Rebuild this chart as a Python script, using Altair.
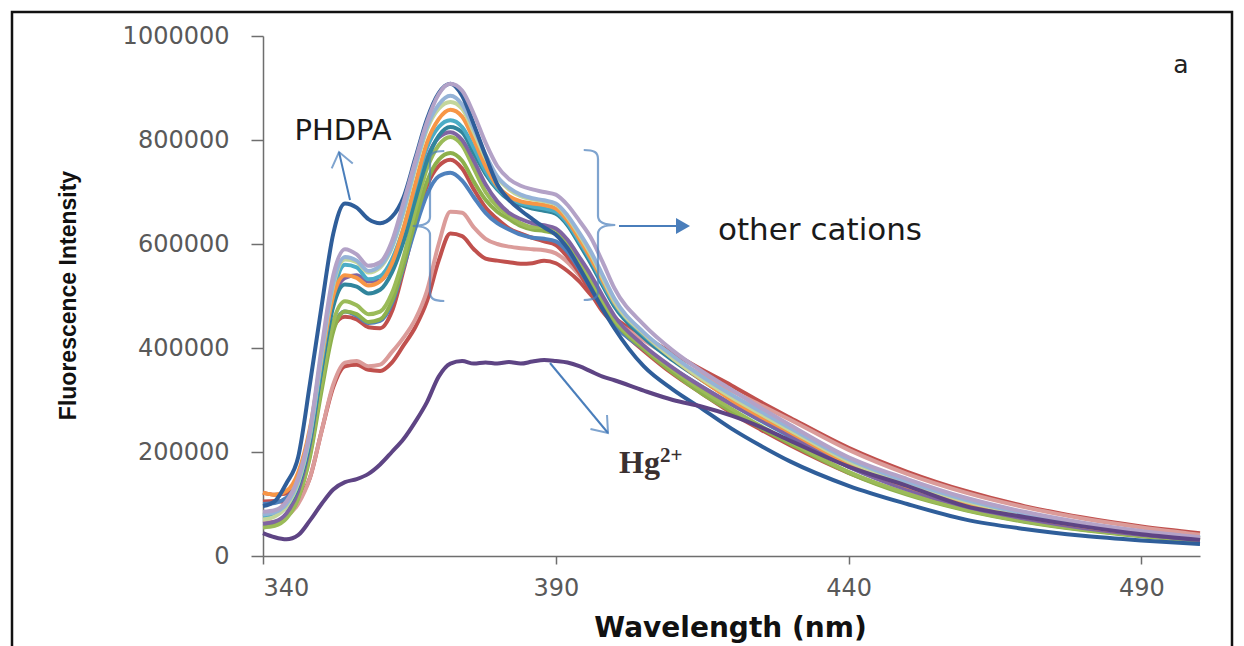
import altair as alt
import pandas as pd

# ---------------- data (intensity in thousands of counts) ----------------
WAVELENGTH = [340, 342, 344, 346, 348, 350, 352, 354, 356, 358, 360, 362, 364, 366, 368, 370,
              372, 374, 376, 378, 380, 382, 384, 386, 388, 390, 392, 394, 396, 398, 400, 405,
              410, 415, 420, 425, 430, 440, 450, 460, 470, 480, 490, 500]

RED2 = [105, 106, 104, 112, 150, 240, 325, 365, 368, 358, 356, 372, 405, 440, 490, 568,
        620, 615, 590, 572, 568, 565, 562, 563, 568, 563, 548, 528, 502, 478, 458, 422,
        390, 358, 328, 296, 266, 208, 162, 125, 96, 74, 57, 44]
PINK = [65, 66, 76, 100, 150, 240, 330, 372, 375, 365, 368, 392, 420, 455, 510, 600,
        662, 660, 632, 610, 600, 595, 592, 590, 588, 582, 565, 540, 510, 480, 455, 415,
        380, 348, 318, 290, 262, 204, 158, 122, 94, 72, 55, 41]
RED = [122, 118, 120, 140, 215, 340, 440, 460, 455, 440, 438, 470, 550, 640, 712, 750,
       762, 745, 705, 670, 648, 630, 620, 612, 605, 598, 575, 545, 505, 470, 445, 395,
       350, 312, 275, 243, 213, 160, 120, 90, 68, 52, 40, 31]
BLUE = [100, 102, 112, 140, 210, 335, 440, 470, 462, 448, 452, 485, 555, 630, 695, 730,
        737, 722, 690, 660, 640, 628, 618, 612, 610, 605, 585, 552, 515, 478, 445, 398,
        360, 325, 292, 260, 230, 172, 128, 96, 73, 55, 42, 32]
GREEN2 = [58, 60, 74, 112, 190, 318, 432, 470, 465, 450, 455, 490, 560, 645, 720, 762,
          775, 760, 720, 685, 662, 648, 635, 628, 625, 620, 598, 562, 525, 488, 452, 398,
          352, 312, 278, 246, 216, 160, 118, 88, 66, 50, 38, 29]
GREEN = [55, 58, 72, 110, 195, 330, 450, 490, 482, 465, 470, 505, 575, 665, 745, 790,
         806, 790, 745, 700, 672, 655, 640, 632, 633, 628, 605, 570, 532, 492, 455, 402,
         358, 318, 283, 250, 220, 162, 120, 89, 67, 51, 39, 29]
PURPLE = [62, 66, 82, 125, 215, 360, 490, 535, 540, 528, 530, 560, 620, 695, 765, 805,
          815, 800, 760, 715, 682, 660, 648, 640, 636, 630, 608, 575, 540, 500, 462, 405,
          362, 325, 292, 262, 232, 172, 128, 95, 72, 54, 41, 31]
DARKTEAL = [78, 82, 95, 135, 220, 360, 480, 522, 518, 505, 512, 545, 605, 685, 760, 808,
            825, 815, 775, 735, 705, 685, 675, 668, 664, 658, 636, 600, 562, 520, 480, 420,
            376, 338, 303, 272, 242, 183, 138, 104, 80, 60, 45, 34]
TEAL = [75, 80, 96, 140, 228, 372, 505, 560, 555, 532, 538, 570, 630, 710, 785, 825,
        838, 825, 785, 740, 708, 688, 678, 672, 668, 662, 640, 605, 568, 525, 485, 425,
        380, 342, 308, 278, 248, 188, 142, 107, 82, 62, 46, 35]
ORANGE = [122, 118, 125, 160, 245, 380, 500, 540, 535, 520, 528, 562, 630, 715, 795, 840,
          858, 845, 800, 750, 712, 692, 682, 678, 675, 668, 645, 610, 572, 530, 488, 428,
          380, 338, 300, 268, 238, 178, 134, 100, 76, 57, 43, 33]
LIGHTGREEN = [70, 76, 95, 140, 232, 385, 520, 570, 565, 545, 555, 592, 660, 745, 820, 860,
              873, 860, 815, 765, 728, 705, 692, 686, 682, 676, 652, 618, 580, 535, 490, 428,
              380, 340, 305, 273, 242, 182, 140, 105, 80, 60, 45, 34]
LIGHTBLUE = [80, 84, 100, 145, 235, 390, 525, 575, 568, 548, 558, 595, 665, 750, 825, 868,
             885, 868, 822, 772, 730, 708, 695, 688, 684, 678, 655, 622, 585, 540, 495, 430,
             385, 345, 310, 278, 246, 186, 143, 108, 82, 62, 46, 35]
PHDPA = [96, 105, 140, 190, 330, 480, 620, 678, 670, 648, 640, 652, 690, 765, 840, 890,
         908, 885, 830, 770, 715, 685, 665, 648, 632, 618, 592, 555, 515, 475, 438, 365,
         320, 283, 245, 212, 182, 135, 100, 70, 52, 39, 30, 23]
LIGHTPURPLE = [85, 88, 105, 150, 240, 400, 540, 590, 580, 558, 565, 605, 680, 760, 835, 888,
               908, 895, 850, 795, 750, 725, 712, 705, 700, 695, 675, 645, 612, 565, 515, 445,
               395, 355, 320, 285, 252, 190, 148, 112, 85, 64, 48, 36]
HG = [44, 36, 32, 40, 68, 100, 128, 142, 148, 158, 176, 200, 225, 258, 296, 345,
      370, 375, 370, 372, 370, 373, 370, 374, 377, 375, 372, 365, 355, 345, 338, 318,
      300, 287, 270, 248, 222, 172, 135, 96, 75, 57, 42, 31]

SERIES_NAMES = ["red2", "pink", "red", "blue", "green2", "green", "purple", "darkteal",
                "teal", "orange", "lightgreen", "lightblue", "PHDPA", "lightpurple", "Hg2+"]
SERIES_VALUES = [RED2, PINK, RED, BLUE, GREEN2, GREEN, PURPLE, DARKTEAL,
                 TEAL, ORANGE, LIGHTGREEN, LIGHTBLUE, PHDPA, LIGHTPURPLE, HG]
SERIES_COLORS = ["#C0504D", "#DB9C9A", "#C0504D", "#4F81BD", "#8DB04C", "#9BBB59", "#8064A2",
                 "#31859C", "#4BACC6", "#F79646", "#C3D69B", "#95B3D7", "#2F5E9A", "#B3A2C7",
                 "#5E4484"]

X_TICKS = [340, 390, 440, 490]
Y_TICKS = [0, 200000, 400000, 600000, 800000, 1000000]

rows = []
for name, vals in zip(SERIES_NAMES, SERIES_VALUES):
    for w, v in zip(WAVELENGTH, vals):
        rows.append({"series": name, "wl": w, "val": v * 1000})
df = pd.DataFrame(rows)

W, H = 937, 520
ARROW = "#4A7EBB"
SANS = "DejaVu Sans"

lines = alt.Chart(df).mark_line(strokeWidth=4, interpolate="monotone").encode(
    x=alt.X("wl:Q", scale=alt.Scale(domain=[340, 500], nice=False),
            axis=alt.Axis(values=X_TICKS, title="Wavelength (nm)", grid=False,
                          labelFont=SANS, labelFontSize=24, labelColor="#595959",
                          labelPadding=12, tickSize=8, tickColor="#6e6e6e",
                          domainColor="#6e6e6e", domainWidth=1.5, tickWidth=1.5,
                          titleFont=SANS, titleFontWeight="bold", titleFontSize=28,
                          titleColor="#111111", titleX=467, titleY=80,
                          titleBaseline="alphabetic", titleAlign="center")),
    y=alt.Y("val:Q", scale=alt.Scale(domain=[0, 1000000], nice=False),
            axis=alt.Axis(values=Y_TICKS, format="d", title="Fluorescence Intensity", grid=False,
                          labelFont=SANS, labelFontSize=24, labelColor="#595959",
                          labelPadding=22, tickSize=12, tickColor="#6e6e6e",
                          domainColor="#6e6e6e", domainWidth=1.5, tickWidth=1.5,
                          titleFont="Liberation Sans", titleFontWeight="bold",
                          titleFontSize=23, titleColor="#111111", titleAngle=270,
                          titleX=-195, titleY=259, titleAlign="center",
                          titleBaseline="middle")),
    color=alt.Color("series:N", scale=alt.Scale(domain=SERIES_NAMES, range=SERIES_COLORS),
                    sort=SERIES_NAMES, legend=None),
)

dummy = pd.DataFrame({"a": [0]})
base = alt.Chart(dummy)

frame = base.mark_rect(fill=None, stroke="#111111", strokeWidth=2.5).encode(
    x=alt.value(-251), x2=alt.value(969), y=alt.value(-24), y2=alt.value(640))

V_HEAD = "M -1 -0.75 L 0 0 L -1 0.75"
LEFT_BRACE = ("M 0.19 -1 C 0.05 -1 0 -0.97 0 -0.88 L 0 -0.12 C 0 -0.04 -0.08 0 -0.23 0 "
              "C -0.08 0 0 0.04 0 0.12 L 0 0.88 C 0 0.97 0.05 1 0.19 1")
RIGHT_BRACE = ("M -0.19 -1 C -0.05 -1 0 -0.97 0 -0.88 L 0 -0.12 C 0 -0.04 0.08 0 0.23 0 "
               "C 0.08 0 0 0.04 0 0.12 L 0 0.88 C 0 0.97 -0.05 1 -0.19 1")

phdpa_text = base.mark_text(text="PHDPA", font=SANS, fontSize=29, color="#1a1a1a",
                            align="center", baseline="middle").encode(
    x=alt.value(80), y=alt.value(95))
phdpa_line = base.mark_rule(color=ARROW, strokeWidth=2).encode(
    x=alt.value(87), y=alt.value(164), x2=alt.value(76), y2=alt.value(116))
phdpa_head = base.mark_point(shape=V_HEAD, size=830, filled=False, color=ARROW,
                             strokeWidth=2, angle=257).encode(
    x=alt.value(76), y=alt.value(116))

brace_l = base.mark_point(shape=LEFT_BRACE, size=22500, filled=False, color=ARROW,
                          strokeWidth=2.2).encode(x=alt.value(167), y=alt.value(190))
brace_r = base.mark_point(shape=RIGHT_BRACE, size=22500, filled=False, color=ARROW,
                          strokeWidth=2.2).encode(x=alt.value(335), y=alt.value(189))
oc_line = base.mark_rule(color=ARROW, strokeWidth=2).encode(
    x=alt.value(356), x2=alt.value(416), y=alt.value(190))
oc_head = base.mark_point(shape="triangle-right", size=260, filled=True, color=ARROW,
                          opacity=1).encode(x=alt.value(420), y=alt.value(190))
oc_text = base.mark_text(text="other cations", font=SANS, fontSize=31, color="#1a1a1a",
                         align="left", baseline="middle").encode(
    x=alt.value(455), y=alt.value(195))

hg_line = base.mark_rule(color=ARROW, strokeWidth=2).encode(
    x=alt.value(287), y=alt.value(327), x2=alt.value(345), y2=alt.value(397))
hg_head = base.mark_point(shape=V_HEAD, size=830, filled=False, color=ARROW,
                          strokeWidth=2, angle=50).encode(x=alt.value(345), y=alt.value(397))
hg_text = base.mark_text(text="Hg", font="Liberation Serif", fontSize=32, fontWeight="bold",
                         color="#3a3030", align="left", baseline="alphabetic").encode(
    x=alt.value(356), y=alt.value(437))
hg_sup = base.mark_text(text="2+", font="Liberation Serif", fontSize=21, fontWeight="bold",
                        color="#3a3030", align="left", baseline="alphabetic").encode(
    x=alt.value(397), y=alt.value(426))

a_text = base.mark_text(text="a", font=SANS, fontSize=25, color="#222222",
                        align="center", baseline="middle").encode(
    x=alt.value(918), y=alt.value(29))

chart = alt.layer(
    frame, lines, phdpa_line, phdpa_head, phdpa_text, brace_l, brace_r, oc_line, oc_head,
    oc_text, hg_line, hg_head, hg_text, hg_sup, a_text
).properties(
    width=W, height=H,
    autosize=alt.AutoSizeParams(type="none"),
    padding={"left": 263, "top": 36, "right": 44, "bottom": 90},
    background="white",
).configure_view(stroke=None)

chart.save("out.html", embed_options={"renderer": "svg", "actions": False})
